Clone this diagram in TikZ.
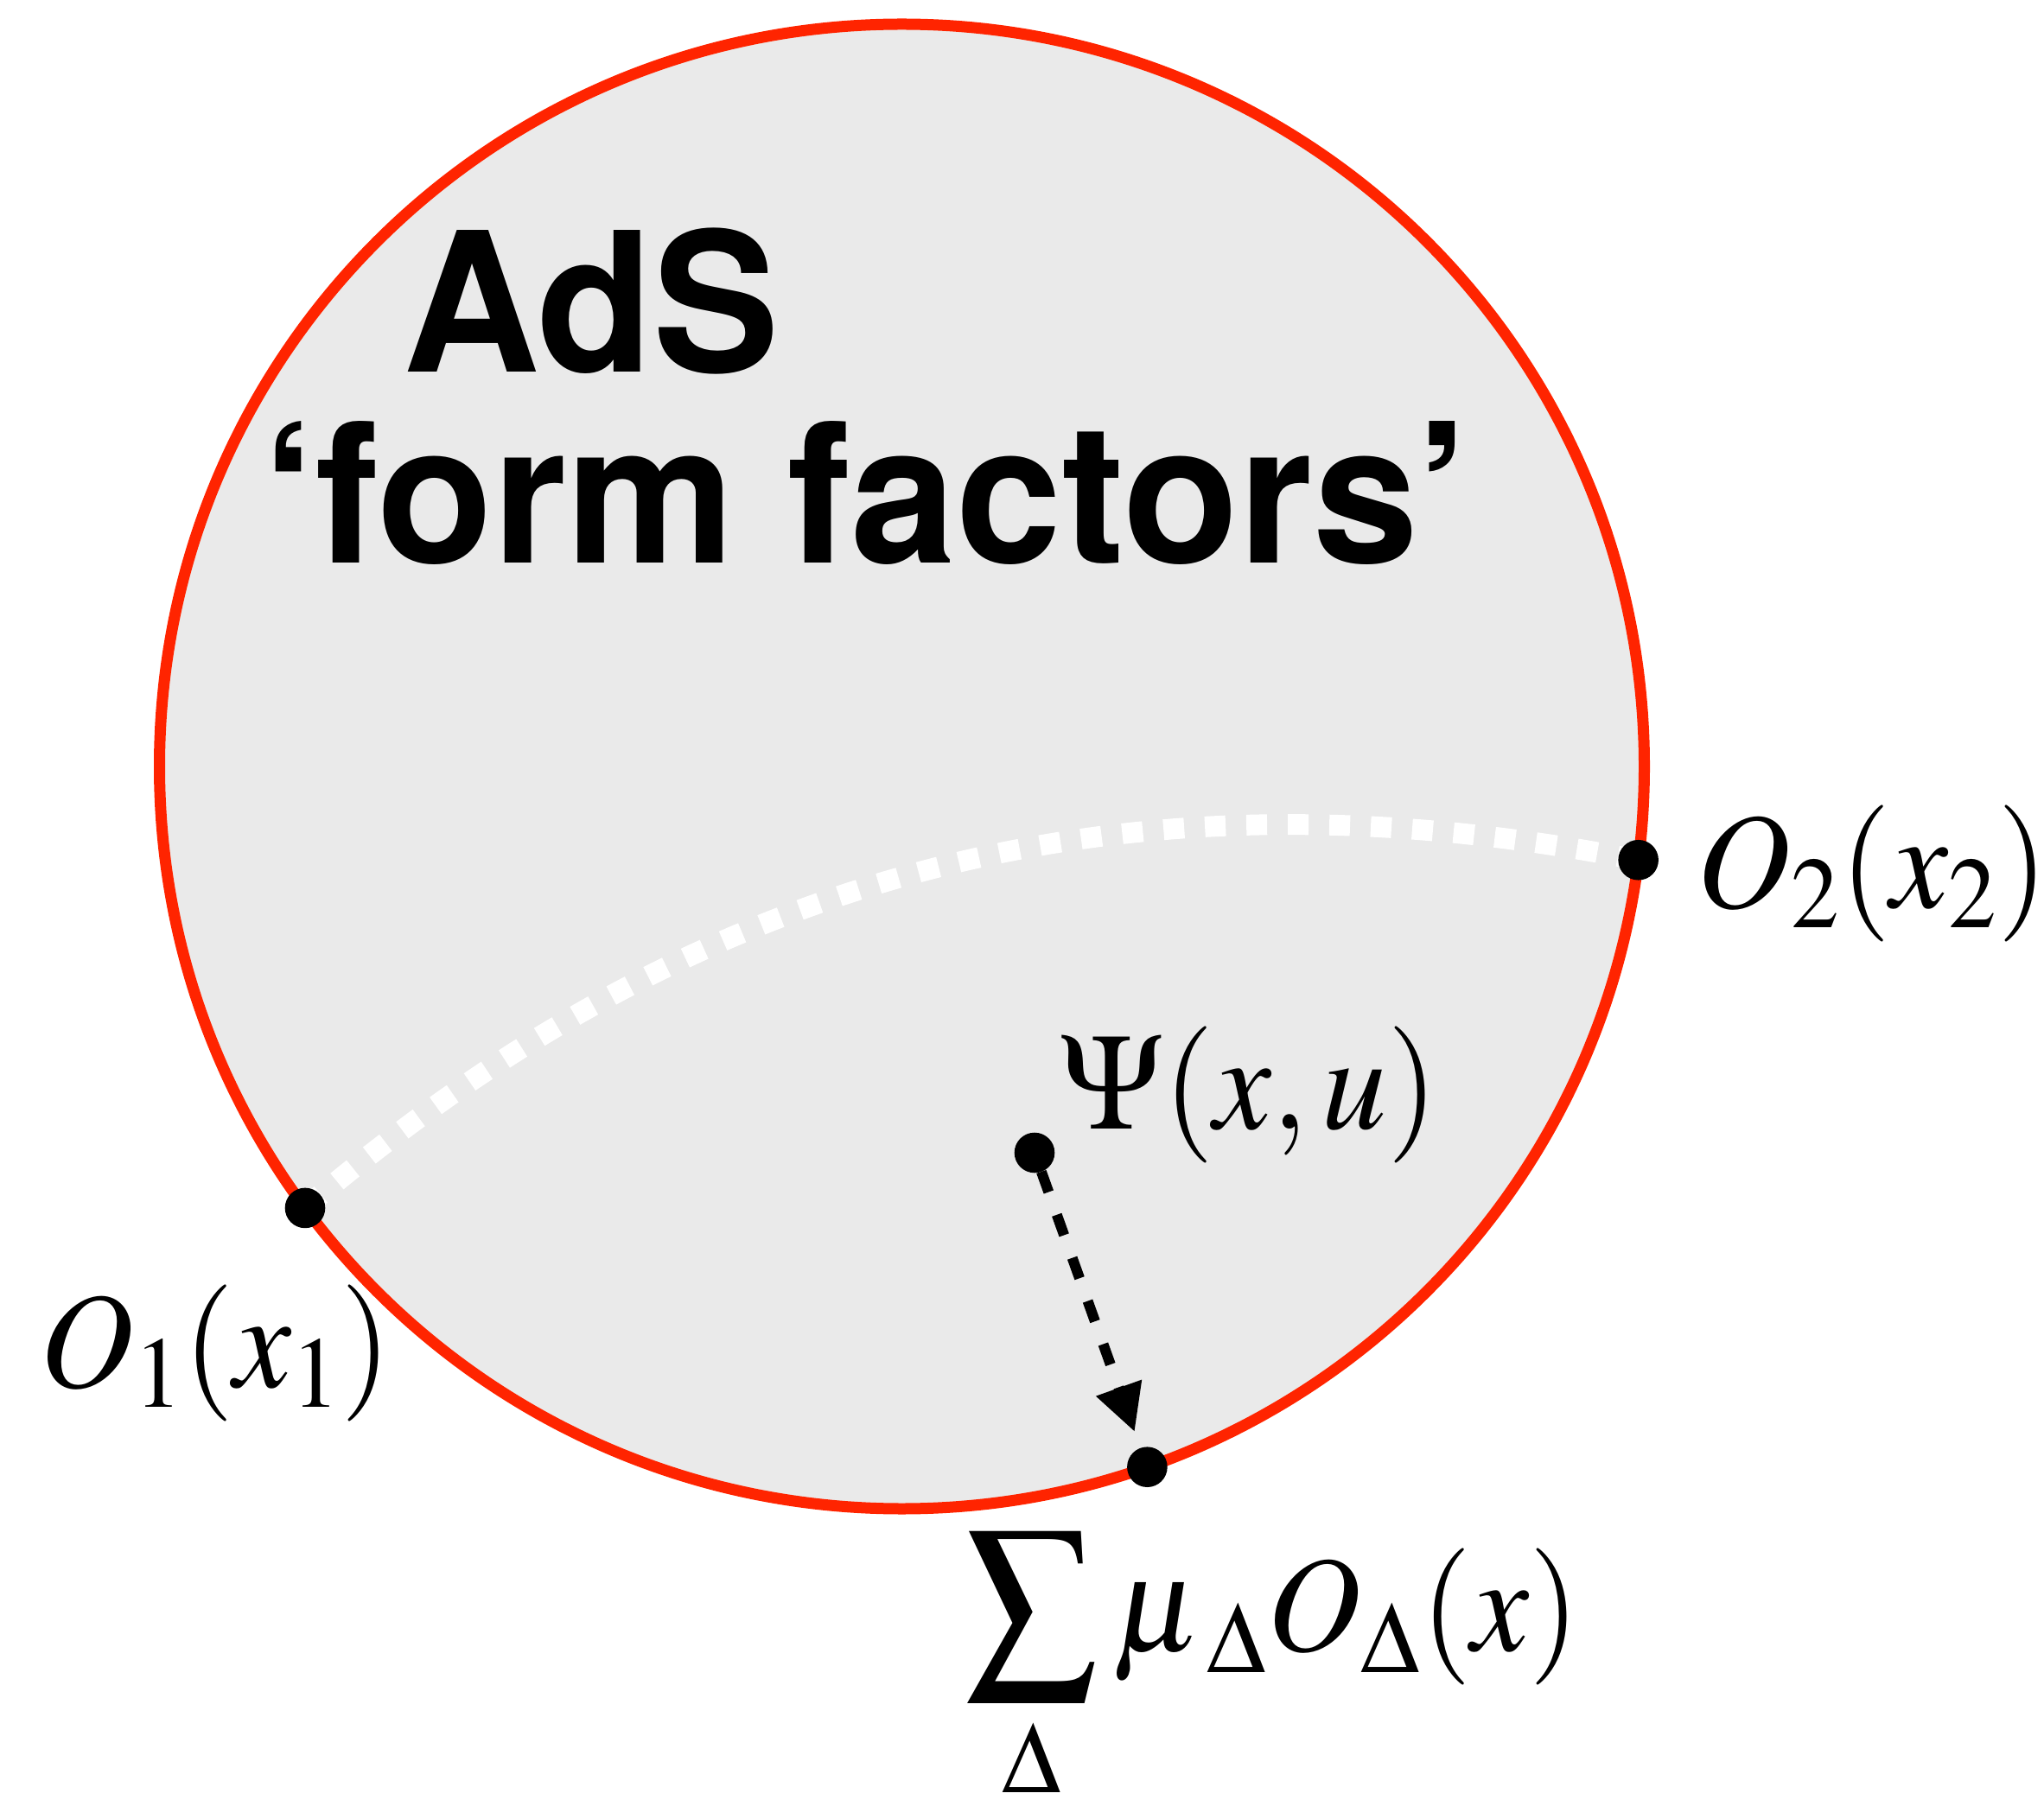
\documentclass[tikz,border=0pt]{standalone}
\usepackage{mathptmx}
\usepackage{graphicx}
\usepackage[no-math]{fontspec}
\newfontfamily\headfont[FakeStretch=0.975]{TeX Gyre Heros}
\usetikzlibrary{arrows.meta,calc,backgrounds}
\definecolor{adsred}{RGB}{255,36,0}
\definecolor{bulk}{RGB}{234,234,234}
\newcommand{\mlab}[1]{\scalebox{0.95}[1]{$#1$}}

\begin{document}
\begin{tikzpicture}[
  vertex/.style={circle, fill=black, inner sep=0pt, outer sep=0pt, minimum size=0.466cm},
  lbl/.style={inner sep=0pt, anchor=base west, font=\fontsize{45}{54}\selectfont},
  head/.style={inner sep=0pt, anchor=base west, font=\headfont\bfseries\fontsize{64}{64}\selectfont},
  geod/.style={white, line width=0.24cm, dash pattern=on 0.24cm off 0.24cm},
  arr/.style={-{Triangle[length=0.54cm,width=0.53cm]}, line width=0.12cm,
              dash pattern=on 0.25cm off 0.28cm, shorten >=0.2cm},
]
  \useasboundingbox (0,0) rectangle (23.65,20.89);
  \coordinate (c) at (10.435,12.02);
  \begin{scope}[on background layer]
    \draw[adsred, fill=bulk, line width=0.13cm] (c) circle (8.59);
  \end{scope}

  % title
  \node[head] (ads) at (4.66,16.58) {AdS};
  \node[head] (ff)  at (3.04,14.37) {‘form factors’};

  % boundary and bulk points
  \node[vertex] (o1)   at ($(c)+(216.5:8.59)$) {};
  \node[vertex] (o2)   at ($(c)+(-7.24:8.59)$) {};
  \node[vertex] (bdry) at ($(c)+(-70.7:8.59)$) {};
  \node[vertex] (psi)  at (11.97,7.55) {};

  \begin{scope}[on background layer]
    \draw[geod] (o1.center) .. controls (8.14,10.84) and (13.05,12.09) .. (o2.center);
  \end{scope}
  \draw[arr] (psi) -- (bdry);

  % labels
  \node[lbl] (l1)   at (0.46,4.84)   {\mlab{O_1(x_1)}};
  \node[lbl] (l2)   at (19.63,10.39) {\mlab{O_2(x_2)}};
  \node[lbl] (lpsi) at (12.26,7.83)  {\mlab{\Psi(x,u)}};
  \node[lbl] (lsum) at (11.16,1.79)  {\mlab{\displaystyle\sum_{\Delta}\mu_{\mkern3mu\Delta}O_{\Delta}(x)}};
\end{tikzpicture}
\end{document}
